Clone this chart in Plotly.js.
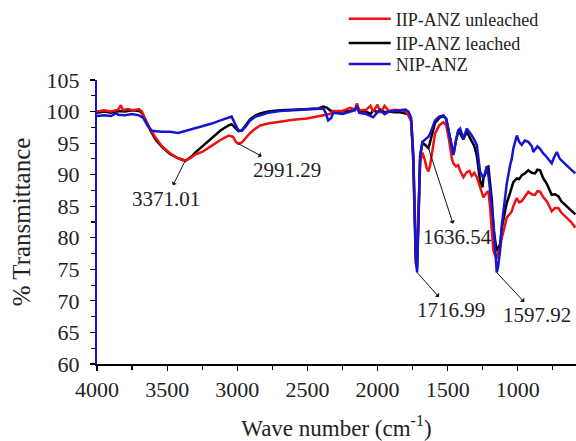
<!DOCTYPE html>
<html>
<head>
<meta charset="utf-8">
<script src="https://cdn.plot.ly/plotly-3.0.1.min.js"></script>
<style>
html,body{margin:0;padding:0;background:#fff;}
#chart{width:576px;height:441px;}
</style>
</head>
<body>
<div id="chart"></div>
<script>
// Wavenumbers (cm-1) and % transmittance
var wnRed = [4000,3950,3900,3850,3830,3815,3780,3740,3700,3680,3650,3620,3580,3537,3480,3421,3371,3330,3300,3250,3181,3120,3062,3030,3010,2991,2967,2940,2908,2870,2836,2780,2694,2600,2504,2420,2387,2340,2316,2250,2195,2160,2147,2130,2080,2050,2031,2000,1980,1950,1920,1880,1839,1800,1780,1760,1745,1735,1727,1718,1712,1705,1696,1680,1665,1649,1637,1625,1610,1590,1560,1530,1510,1490,1470,1459,1440,1425,1411,1388,1364,1345,1328,1310,1292,1269,1252,1245,1233,1221,1210,1198,1185,1174,1162,1150,1126,1114,1091,1079,1055,1043,1032,1007,990,972,950,925,900,877,860,841,820,794,775,758,735,711,690,651,620,590];
var tRed = [100.0,100.2,100.0,100.3,101.0,100.2,100.4,100.2,100.4,100.0,98.5,97.2,95.8,94.5,93.4,92.6,92.2,92.7,93.2,93.6,94.6,95.5,96.2,96.0,95.2,94.9,95.1,95.8,96.6,97.3,97.8,98.1,98.4,98.7,98.9,99.2,99.4,99.6,100.1,100.1,100.6,100.3,101.3,100.2,100.3,100.9,100.0,101.1,99.8,100.9,100.1,100.3,100.2,100.0,99.5,98.5,93.0,85.0,78.0,76.2,80.0,86.0,92.0,93.5,92.5,91.0,90.5,91.5,93.5,96.5,97.8,98.3,97.8,95.5,92.5,91.8,91.3,91.5,90.6,89.6,90.4,90.6,89.8,90.3,89.6,88.0,86.6,86.4,86.8,87.2,87.3,85.0,81.0,78.0,77.2,76.9,78.5,80.0,82.0,83.2,83.8,84.2,85.0,86.3,85.6,85.8,86.5,87.3,86.9,86.8,87.4,87.3,86.5,85.8,85.0,84.2,84.7,84.7,84.0,83.2,82.5,81.6];

var wnBlack = [4000,3950,3900,3850,3800,3750,3700,3680,3650,3620,3580,3537,3480,3421,3371,3330,3300,3250,3181,3120,3062,3040,3010,2991,2967,2940,2908,2870,2836,2780,2694,2600,2504,2420,2387,2360,2340,2316,2250,2195,2160,2147,2130,2080,2050,2031,2000,1980,1950,1920,1880,1839,1800,1780,1760,1745,1735,1727,1718,1712,1705,1696,1680,1665,1649,1637,1625,1610,1590,1560,1530,1510,1490,1470,1459,1440,1425,1411,1388,1364,1345,1328,1310,1292,1269,1252,1245,1233,1221,1210,1198,1185,1174,1162,1150,1126,1114,1091,1079,1055,1043,1032,1007,990,972,950,925,900,877,860,841,820,794,775,758,735,711,690,651,620,590];
var tBlack = [99.8,100.0,99.8,100.1,100.0,100.2,100.1,99.8,98.5,97.0,95.5,94.4,93.3,92.6,92.2,92.8,93.5,94.5,95.9,97.0,97.8,98.0,97.3,96.9,97.0,97.8,98.8,99.4,99.7,100.0,100.2,100.3,100.4,100.5,100.8,100.6,100.2,100.0,100.0,100.1,100.4,101.0,100.0,100.0,99.6,100.2,99.9,100.3,99.9,100.0,99.9,99.9,99.7,99.5,98.5,92.0,83.0,76.0,75.2,79.0,86.0,93.0,95.0,94.8,94.5,94.2,95.2,96.5,98.2,99.0,99.3,98.8,96.5,94.0,93.2,95.5,96.8,96.5,95.6,96.8,96.0,95.5,94.5,93.0,89.0,88.0,89.5,90.0,91.2,91.3,89.0,86.0,81.5,79.5,77.9,79.0,81.5,84.2,85.5,87.1,88.0,88.8,89.4,89.3,89.9,90.2,90.7,90.3,90.2,90.8,90.7,89.5,88.6,87.5,86.8,86.9,86.6,85.8,85.0,84.3,83.7];

var wnBlue = [4000,3950,3900,3860,3850,3800,3750,3700,3670,3640,3610,3597,3537,3480,3421,3371,3300,3250,3181,3120,3062,3040,3010,2991,2967,2940,2908,2870,2836,2780,2694,2600,2504,2420,2387,2370,2352,2330,2316,2250,2195,2160,2147,2130,2080,2050,2031,2000,1980,1950,1920,1880,1839,1800,1780,1760,1745,1735,1727,1718,1712,1705,1696,1680,1665,1649,1637,1625,1610,1590,1560,1530,1510,1490,1470,1459,1440,1425,1411,1388,1364,1345,1328,1310,1292,1269,1252,1245,1233,1221,1210,1198,1185,1174,1162,1150,1140,1126,1114,1091,1079,1055,1043,1032,1007,990,972,950,925,900,889,877,860,841,820,794,775,758,740,722,700,664,620,590];
var tBlue = [99.3,99.4,99.3,99.8,99.5,99.4,99.6,99.4,99.0,97.8,97.0,96.9,96.8,96.8,96.6,96.9,97.3,97.6,98.1,98.6,99.1,99.2,97.8,97.0,97.0,97.6,98.6,99.2,99.4,99.8,100.1,100.2,100.3,100.4,100.5,99.8,98.6,99.0,99.8,99.6,99.9,100.2,100.9,99.8,99.6,99.3,99.1,99.9,100.2,99.6,100.0,100.1,100.2,100.3,100.0,99.0,93.0,84.0,77.0,74.5,79.0,86.0,93.0,95.2,95.5,95.8,96.0,96.5,97.5,98.6,99.2,99.4,98.8,96.5,94.0,93.1,95.5,97.0,97.3,95.7,97.3,96.8,96.2,95.5,94.7,90.5,89.5,89.4,90.3,91.3,90.0,87.9,85.0,82.6,78.5,74.5,75.5,78.0,82.0,86.3,88.5,91.5,92.5,94.1,96.2,95.2,94.7,95.4,95.2,94.5,93.6,94.0,94.5,94.1,93.4,92.8,92.2,91.8,92.8,93.6,92.5,91.8,90.8,90.2];

var seriesNames = ['IIP-ANZ unleached','IIP-ANZ leached','NIP-ANZ'];
var xTickVals = [4000,3500,3000,2500,2000,1500,1000];
var yTickVals = [60,65,70,75,80,85,90,95,100,105];

// Peak labels and the points their arrows mark
var peakLabels = ['3371.01','2991.29','1636.54','1716.99','1597.92'];
var peakX = [3371,2991,1637,1718,1150];
var peakY = [92.2,94.9,94.2,74.5,74.5];
var peakDx = [-19,48,29,34,40];
var peakDy = [38,26,89,38,43];

var serif = 'Liberation Serif, Times New Roman, serif';

var traces = [
  {x: wnBlack, y: tBlack, name: seriesNames[1], legend: 'legend2', type: 'scatter', mode: 'lines', line: {color: '#000000', width: 2.5}},
  {x: wnRed, y: tRed, name: seriesNames[0], legend: 'legend', type: 'scatter', mode: 'lines', line: {color: '#ee1111', width: 2.5}},
  {x: wnBlue, y: tBlue, name: seriesNames[2], legend: 'legend3', type: 'scatter', mode: 'lines', line: {color: '#1414d2', width: 2.5}}
];

var annotations = peakLabels.map(function(t, i){
  return {
    x: peakX[i], y: peakY[i], xref: 'x', yref: 'y',
    text: t, showarrow: true, arrowside: 'start', arrowhead: 2, arrowsize: 1, arrowwidth: 1,
    arrowcolor: '#111', ax: peakDx[i], ay: peakDy[i],
    font: {family: serif, size: 21, color: '#222'}
  };
});

function legendAt(yv){
  return {
    x: 0.515, y: yv, xanchor: 'left', yanchor: 'middle',
    bgcolor: 'rgba(0,0,0,0)', borderwidth: 0,
    font: {family: serif, size: 18, color: '#222'},
    itemwidth: 42
  };
}

var layout = {
  width: 576, height: 441,
  margin: {l: 97, r: 0, t: 77, b: 77, pad: 0},
  paper_bgcolor: '#ffffff', plot_bgcolor: '#ffffff',
  showlegend: true,
  legend: legendAt(1.215),
  legend2: legendAt(1.129),
  legend3: legendAt(1.055),
  xaxis: {
    range: [4000, 585], tickmode: 'array', tickvals: xTickVals,
    showgrid: false, zeroline: false, showline: true, linecolor: '#000', linewidth: 1.5,
    ticks: 'outside', ticklen: 5, tickwidth: 1.2, tickcolor: '#000',
    minor: {dtick: 250, tick0: 0, ticks: 'outside', ticklen: 4, tickwidth: 1.2, tickcolor: '#000', showgrid: false},
    tickfont: {family: serif, size: 22, color: '#222'},
    ticklabelstandoff: 0,
    title: {text: 'Wave number (cm<sup>-1</sup>)', font: {family: serif, size: 23, color: '#222'}, standoff: 24},
    automargin: false
  },
  yaxis: {
    range: [60, 105], tickmode: 'array', tickvals: yTickVals,
    showgrid: false, zeroline: false, showline: true, linecolor: '#1414d2', linewidth: 2,
    ticks: 'outside', ticklen: 5, tickwidth: 1.2, tickcolor: '#000',
    minor: {dtick: 2.5, tick0: 0, ticks: 'outside', ticklen: 4, tickwidth: 1.2, tickcolor: '#000', showgrid: false},
    tickfont: {family: serif, size: 22, color: '#222'},
    ticklabelstandoff: 6,
    title: {text: '% Transmittance', font: {family: serif, size: 25, color: '#222'}, standoff: 9},
    automargin: false
  },
  annotations: annotations
};

Plotly.newPlot('chart', traces, layout, {displayModeBar: false, staticPlot: true});
</script>
</body>
</html>
